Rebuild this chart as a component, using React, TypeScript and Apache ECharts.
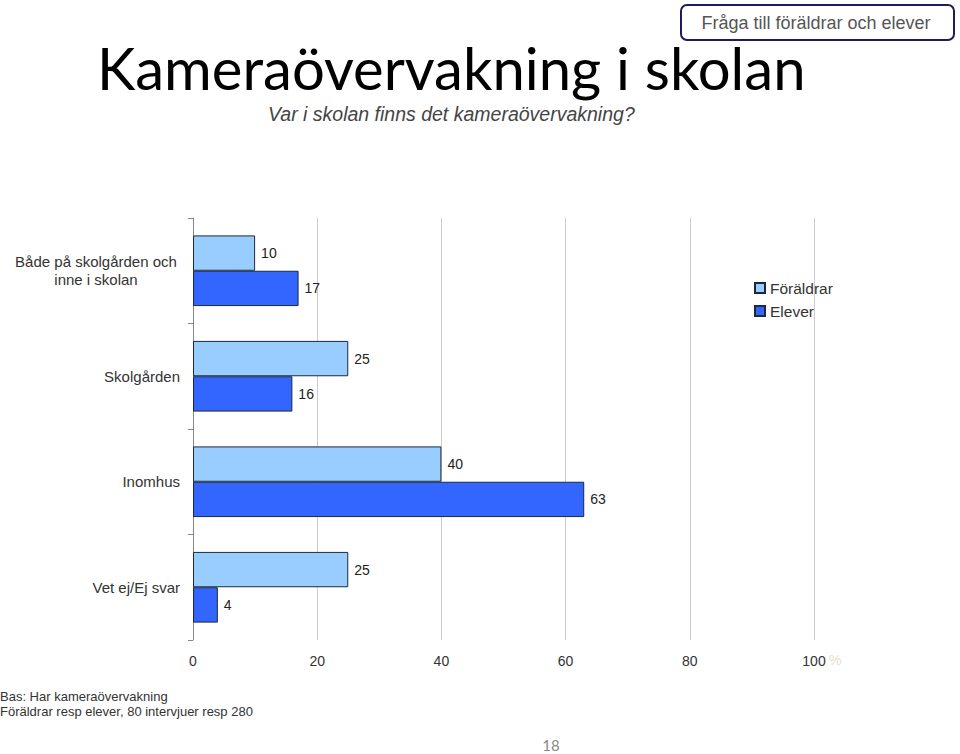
import React, { useEffect, useRef } from "react";
import * as echarts from "echarts";

const categories = [
  "Både på skolgården och\ninne i skolan",
  "Skolgården",
  "Inomhus",
  "Vet ej/Ej svar",
];
const foraldrar = [10, 25, 40, 25];
const elever = [17, 16, 63, 4];
const xTicks = [0, 20, 40, 60, 80, 100];

export default function App() {
  const ref = useRef<HTMLDivElement>(null);
  useEffect(() => {
    const chart = echarts.init(ref.current!, null, { renderer: "svg" });
    const font = "'Liberation Sans', Arial, sans-serif";
    chart.setOption({
      animation: false,
      backgroundColor: "#ffffff",
      textStyle: { fontFamily: font },
      grid: { left: 193, right: 146, top: 218, bottom: 114 },
      legend: {
        left: 749,
        top: 275,
        orient: "vertical",
        itemWidth: 10,
        itemHeight: 10,
        itemGap: 7,
        icon: "rect",
        textStyle: { fontSize: 15.5, color: "#333", fontFamily: font },
        data: ["Föräldrar", "Elever"],
      },
      xAxis: {
        type: "value",
        min: xTicks[0],
        max: xTicks[xTicks.length - 1],
        interval: 20,
        axisLine: { show: false },
        axisTick: { show: false },
        axisLabel: { fontSize: 14, color: "#333", margin: 14, fontFamily: font },
        splitLine: { show: true, lineStyle: { color: "#cccccc", width: 1 } },
      },
      yAxis: {
        type: "category",
        inverse: true,
        data: categories,
        axisLine: { show: true, lineStyle: { color: "#888888" } },
        axisTick: { show: true, length: 5, lineStyle: { color: "#888888" } },
        axisLabel: {
          margin: 13,
          fontSize: 15,
          lineHeight: 18,
          color: "#333",
          fontFamily: font,
          formatter: (v: string) =>
            v.includes("\n") ? v.split("\n").map((l) => `{c|${l}}`).join("\n") : v,
          rich: {
            c: { width: 168, align: "center", fontSize: 15, lineHeight: 18, color: "#333", fontFamily: font },
          },
        },
      },
      series: [
        {
          name: "Föräldrar",
          type: "bar",
          data: foraldrar,
          barGap: "0%",
          barCategoryGap: "33%",
          itemStyle: { color: "#99CCFF", borderColor: "#1a2a3a", borderWidth: 1 },
          label: { show: true, position: "right", distance: 6, fontSize: 14, color: "#222", fontFamily: font },
        },
        {
          name: "Elever",
          type: "bar",
          data: elever,
          barCategoryGap: "33%",
          itemStyle: { color: "#3366FF", borderColor: "#1a2a3a", borderWidth: 1 },
          label: { show: true, position: "right", distance: 6, fontSize: 14, color: "#222", fontFamily: font },
        },
      ],
      graphic: [
        {
          type: "text",
          left: 97,
          top: 37,
          style: { text: "Kameraövervakning i skolan", fontSize: 58, lineHeight: 60, fill: "#000", fontFamily: "Lato, sans-serif" },
        },
        {
          type: "text",
          left: 268,
          top: 104,
          style: {
            text: "Var i skolan finns det kameraövervakning?",
            fontSize: 19.5,
            fontStyle: "italic",
            fill: "#444",
            fontFamily: font,
          },
        },
        {
          type: "rect",
          shape: { x: 681, y: 5, width: 273, height: 35, r: 6 },
          style: { fill: "#fff", stroke: "#1c1c5c", lineWidth: 2 },
        },
        {
          type: "text",
          x: 816,
          y: 23,
          style: {
            text: "Fråga till föräldrar och elever",
            fontSize: 18,
            fill: "#555",
            align: "center",
            verticalAlign: "middle",
            fontFamily: font,
          },
        },
        {
          type: "text",
          x: 829,
          y: 660,
          style: { text: "%", fontSize: 14, fill: "#e6dfc6", verticalAlign: "middle", fontFamily: font },
        },
        {
          type: "text",
          left: 0,
          top: 689,
          style: {
            text: "Bas: Har kameraövervakning\nFöräldrar resp elever, 80 intervjuer resp 280",
            fontSize: 13,
            lineHeight: 15,
            fill: "#333",
            fontFamily: font,
          },
        },
        {
          type: "text",
          x: 551,
          y: 745,
          style: { text: "18", fontSize: 15, fill: "#888", align: "center", verticalAlign: "middle", fontFamily: "Lato, sans-serif" },
        },
      ],
    });
    return () => chart.dispose();
  }, []);
  return <div ref={ref} style={{ width: 960, height: 754, position: "absolute", left: 0, top: 0 }} />;
}
